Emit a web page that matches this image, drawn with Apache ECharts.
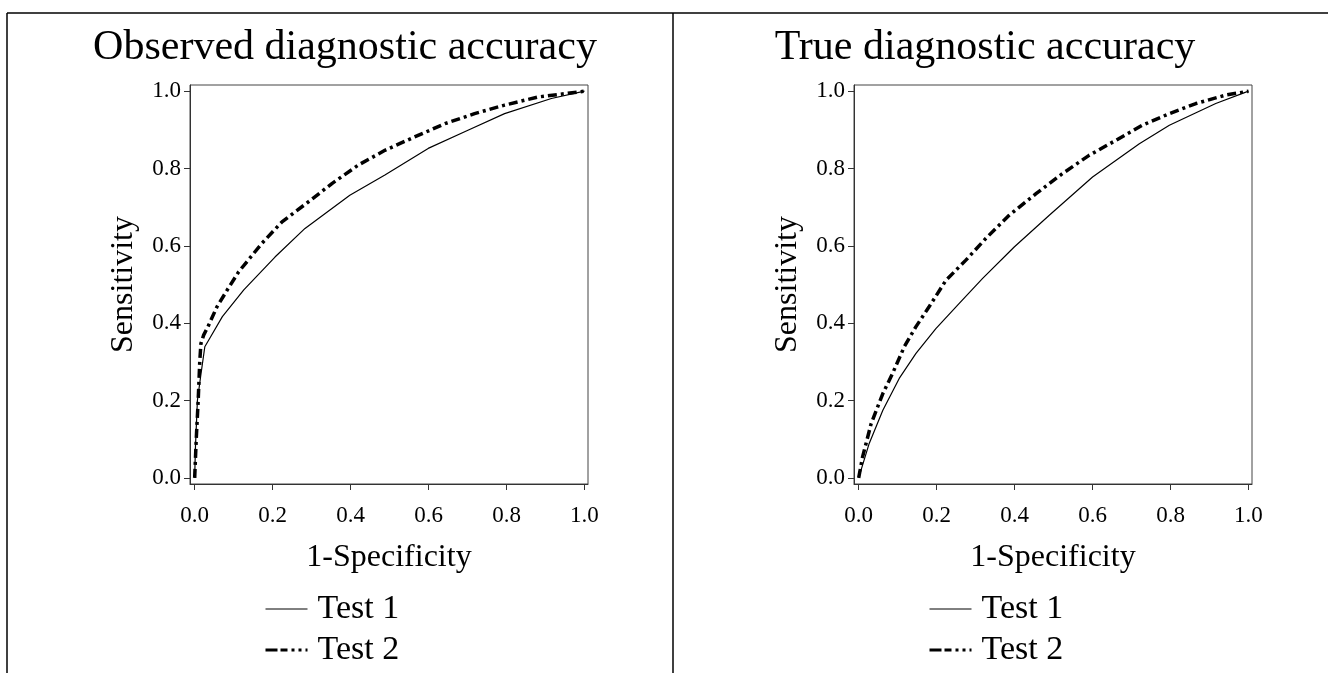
<!DOCTYPE html>
<html>
<head>
<meta charset="utf-8">
<script src="https://cdn.jsdelivr.net/npm/echarts@6/dist/echarts.min.js"></script>
<style>
  html, body { margin: 0; padding: 0; background: #fff; }
  #chart { width: 1328px; height: 673px; }
</style>
</head>
<body>
<div id="chart"></div>
<script>
// panel titles and legend names
const panelTitles = ['Observed diagnostic accuracy', 'True diagnostic accuracy'];
const testNames = ['Test 1', 'Test 2'];
const tickValues = [0, 0.2, 0.4, 0.6, 0.8, 1.0];

// observed accuracy, test 1 (1-specificity, sensitivity)
const obsFpr1 = [0, 0.002, 0.007, 0.015, 0.026, 0.041, 0.071, 0.126, 0.206, 0.283, 0.398, 0.488, 0.599, 0.701, 0.795, 0.915, 1];
const obsTpr1 = [0, 0.08, 0.2, 0.26, 0.339, 0.365, 0.417, 0.486, 0.571, 0.645, 0.731, 0.783, 0.852, 0.899, 0.942, 0.981, 1];
// observed accuracy, test 2
const obsFpr2 = [0, 0.004, 0.009, 0.013, 0.016, 0.023, 0.036, 0.057, 0.083, 0.113, 0.172, 0.224, 0.292, 0.352, 0.420, 0.488, 0.556, 0.642, 0.718, 0.795, 0.881, 1];
const obsTpr2 = [0, 0.1, 0.2, 0.3, 0.347, 0.369, 0.395, 0.442, 0.485, 0.533, 0.606, 0.662, 0.714, 0.761, 0.809, 0.847, 0.878, 0.916, 0.942, 0.964, 0.985, 1];
// true accuracy, test 1
const trueFpr1 = [0, 0.027, 0.062, 0.104, 0.147, 0.198, 0.258, 0.318, 0.399, 0.489, 0.600, 0.720, 0.797, 0.916, 1];
const trueTpr1 = [0, 0.089, 0.175, 0.257, 0.322, 0.386, 0.451, 0.516, 0.597, 0.679, 0.778, 0.864, 0.912, 0.968, 1];
// true accuracy, test 2
const trueFpr2 = [0, 0.010, 0.032, 0.062, 0.087, 0.117, 0.147, 0.181, 0.224, 0.275, 0.326, 0.386, 0.455, 0.523, 0.591, 0.66, 0.728, 0.797, 0.865, 0.942, 1];
const trueTpr2 = [0, 0.054, 0.14, 0.218, 0.27, 0.339, 0.391, 0.443, 0.511, 0.563, 0.619, 0.679, 0.735, 0.787, 0.834, 0.873, 0.912, 0.942, 0.968, 0.99, 1];

function zip(xs, ys) {
    return xs.map(function (x, i) { return [x, ys[i]]; });
}

const FONT = '"Liberation Serif", "Times New Roman", serif';
const axisColor = '#333';
const dashDot = [9, 4, 3, 4];

const gridLefts = [190, 854];
const titleCenters = [340, 980];
const legendLefts = [264, 928];

function makeAxis(gridIndex, isX) {
    return {
        type: 'value',
        gridIndex: gridIndex,
        min: isX ? -0.012 : -0.016,
        max: isX ? 1.009 : 1.016,
        name: isX ? '1-Specificity' : 'Sensitivity',
        nameLocation: 'middle',
        nameGap: isX ? 58 : 50,
        nameTextStyle: { fontFamily: FONT, fontSize: 32, color: '#000' },
        splitLine: { show: false },
        axisLine: { show: true, onZero: false, lineStyle: { color: axisColor, width: 1 } },
        axisTick: { show: true, length: 6, customValues: tickValues, lineStyle: { color: axisColor } },
        axisLabel: {
            customValues: tickValues,
            fontFamily: FONT, fontSize: 23, color: '#000',
            margin: isX ? 20 : 9,
            formatter: function (v) { return v.toFixed(1); }
        }
    };
}

const grids = [], xAxes = [], yAxes = [], titles = [], legends = [];
for (let p = 0; p < 2; p++) {
    grids.push({
        left: gridLefts[p], top: 85, width: 398, height: 399,
        show: true, borderColor: '#444', borderWidth: 1, backgroundColor: 'transparent'
    });
    xAxes.push(makeAxis(p, true));
    yAxes.push(makeAxis(p, false));
    titles.push({
        text: panelTitles[p],
        left: titleCenters[p], top: 22, textAlign: 'center',
        textStyle: { fontFamily: FONT, fontSize: 42, fontWeight: 'normal', color: '#000' }
    });
    legends.push({
        orient: 'vertical',
        left: legendLefts[p], top: 592, padding: 0,
        itemWidth: 42, itemHeight: 14, itemGap: 7,
        itemStyle: { color: 'transparent', borderWidth: 0 },
        textStyle: { fontFamily: FONT, fontSize: 34, lineHeight: 34, color: '#000', padding: [0, 0, 0, 5] },
        data: [
            { name: testNames[0], lineStyle: { width: 1 } },
            { name: testNames[1], lineStyle: { width: 3, type: [12, 3, 7, 4, 3, 4, 3, 4] } }
        ]
    });
}

const series = [
    [zip(obsFpr1, obsTpr1), zip(obsFpr2, obsTpr2)],
    [zip(trueFpr1, trueTpr1), zip(trueFpr2, trueTpr2)]
].flatMap(function (pair, p) {
    return [
        {
            name: testNames[0], type: 'line', xAxisIndex: p, yAxisIndex: p,
            data: pair[0], symbol: 'none', smooth: false,
            lineStyle: { color: '#000', width: 1.2, type: 'solid' }, itemStyle: { color: '#000' },
            animation: false
        },
        {
            name: testNames[1], type: 'line', xAxisIndex: p, yAxisIndex: p,
            data: pair[1], symbol: 'none', smooth: false,
            lineStyle: { color: '#000', width: 3.5, type: dashDot }, itemStyle: { color: '#000' },
            animation: false
        }
    ];
});

let option = {
    backgroundColor: '#fff',
    animation: false,
    title: titles,
    legend: legends,
    grid: grids,
    xAxis: xAxes,
    yAxis: yAxes,
    series: series,
    graphic: [
        // table frame lines around the two panels
        { type: 'line', shape: { x1: 7, y1: 13, x2: 1328, y2: 13 }, style: { stroke: '#000', lineWidth: 1.5 } },
        { type: 'line', shape: { x1: 7, y1: 13, x2: 7, y2: 673 }, style: { stroke: '#000', lineWidth: 1.5 } },
        { type: 'line', shape: { x1: 673, y1: 13, x2: 673, y2: 673 }, style: { stroke: '#000', lineWidth: 1.5 } }
    ]
};

let element = document.getElementById('chart');
let chart = echarts.init(element);
chart.setOption(option);
</script>
</body>
</html>
